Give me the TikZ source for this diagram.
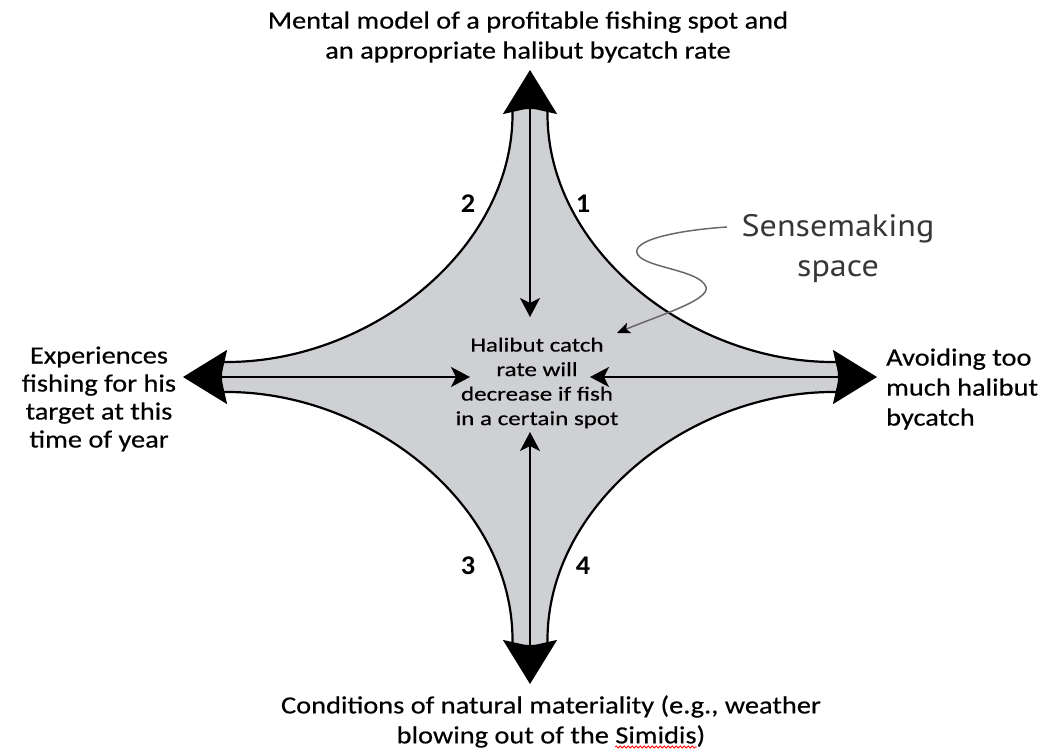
\documentclass[tikz,border=0pt]{standalone}
\usepackage{fontspec}
\setmainfont{Carlito}[FakeStretch=1.15, FakeBold=0.4]
\newfontfamily\corefont{Carlito}[FakeStretch=1.25, FakeBold=0.4]
\newfontfamily\numfont{Carlito}[FakeStretch=1.05]
\newfontfamily\notefont{PT Sans}[FakeStretch=1.1]
\usetikzlibrary{arrows.meta,decorations.pathmorphing}
\definecolor{spacefill}{RGB}{207,208,211}
\definecolor{notegray}{RGB}{55,55,55}
\definecolor{leadgray}{RGB}{105,105,105}

\begin{document}
\begin{tikzpicture}[x=1pt,y=-1pt,
  outer/.style={font=\fontsize{24.7}{30}\selectfont, inner sep=0pt},
  numlabel/.style={font=\numfont\bfseries\fontsize{27}{30}\selectfont, inner sep=0pt},
  coretext/.style={font=\corefont\fontsize{20}{24.5}\selectfont, inner sep=0pt, align=center},
  notetext/.style={font=\notefont\fontsize{31}{40}\selectfont, text=notegray, inner sep=0pt, align=center},
  spaceshape/.style={fill=spacefill, draw=black, line width=2.2pt, line join=round},
  axisline/.style={line width=2pt,
    {Stealth[length=19pt,width=20pt,inset=5pt]}-{Stealth[length=44pt,width=54pt,inset=6pt]}},
  leader/.style={draw=leadgray, line width=1.5pt,
    -{Stealth[length=13pt,width=11pt,inset=3pt,color=black]}},
  spellmark/.style={draw=red, line width=0.8pt, decorate,
    decoration={snake, segment length=4pt, amplitude=1pt}}
]
\useasboundingbox (0,0) rectangle (1044,749);

% outer tips of the four axes and inner ends next to the central statement
\coordinate (tipN) at (530,70);
\coordinate (tipS) at (530,684);
\coordinate (tipW) at (183,377);
\coordinate (tipE) at (877,377);
\coordinate (inN) at (530,317);
\coordinate (inS) at (530,432);
\coordinate (inW) at (470,377);
\coordinate (inE) at (590,377);

% the sensemaking space: four concave edges between the axis shafts
\path[spaceshape]
  (547.5,108) -- (547.5,114) .. controls (547.5,250) and (690,362) .. (833,362)
  -- (839,362) -- (839,392) -- (833,392)
  .. controls (690,392) and (547.5,504) .. (547.5,640)
  -- (547.5,646) -- (512.5,646) -- (512.5,640)
  .. controls (512.5,504) and (370,392) .. (227,392)
  -- (221,392) -- (221,362) -- (227,362)
  .. controls (370,362) and (512.5,250) .. (512.5,114)
  -- (512.5,108) -- cycle;

% double-headed axes
\draw[axisline] (inN) -- (tipN);
\draw[axisline] (inS) -- (tipS);
\draw[axisline] (inW) -- (tipW);
\draw[axisline] (inE) -- (tipE);

% central statement
\node[coretext] (core) at (537,383)
  {Halibut catch\\rate will\\decrease if fish\\in a certain spot};

% edge numbers
\node[numlabel] (n1) at (583,204) {1};
\node[numlabel] (n2) at (468,204) {2};
\node[numlabel] (n3) at (468,566) {3};
\node[numlabel] (n4) at (583,566) {4};

% pole labels
\node[outer, align=center] (top) at (528,37)
  {Mental model of a profitable fishing spot and\\an appropriate halibut bycatch rate};
\node[outer, align=center, font=\fontsize{24.7}{28}\selectfont] (left) at (99,399)
  {Experiences\\fishing for his\\target at this\\time of year};
\node[outer, align=left, anchor=west] (right) at (886,389)
  {Avoiding too\\much halibut\\bycatch};
\node[outer, align=center] (bottom) at (551,721.5)
  {Conditions of natural materiality (e.g., weather\\blowing out of the Simidis)};
\draw[spellmark] (615,747) -- (697,747);

% annotation with its winding leader
\node[notetext] (sense) at (838,249) {Sensemaking\\space};
\coordinate (leadStart) at (727,227);
\coordinate (leadEnd) at (617,333);
\draw[leader] (leadStart) .. controls (680,230) and (628,240) .. (638,255)
  .. controls (647,268) and (700,270) .. (706,287)
  .. controls (710,300) and (660,315) .. (leadEnd);
\end{tikzpicture}
\end{document}
